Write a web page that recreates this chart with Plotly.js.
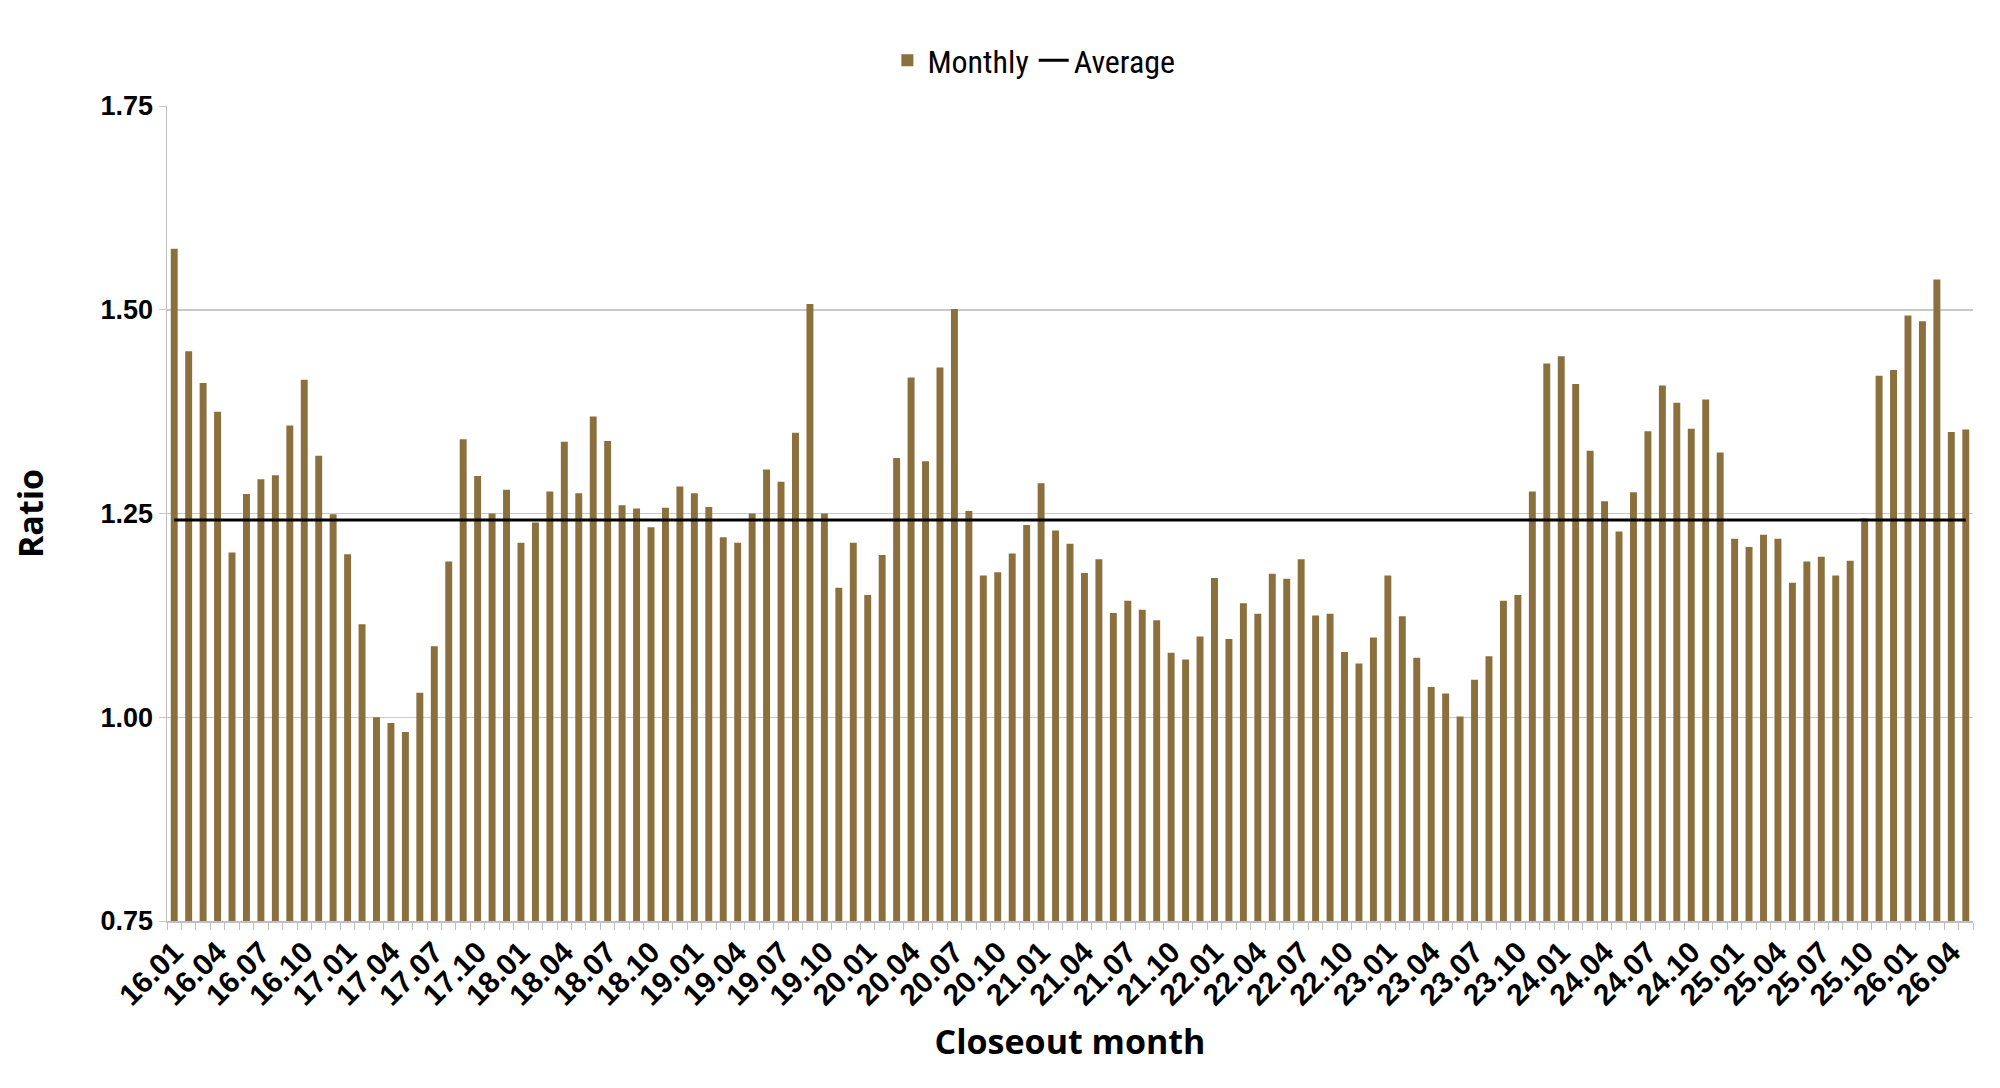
<!DOCTYPE html>
<html>
<head>
<meta charset="utf-8">
<script src="https://cdn.plot.ly/plotly-3.0.1.min.js"></script>
<style>
  html, body { margin: 0; padding: 0; background: #fff; }
  #chart { width: 2000px; height: 1088px; }
</style>
</head>
<body>
<div id="chart"></div>
<script>
// closeout months 16.01 .. 26.05
const firstYear = 16;
const monthCount = 125;
const months = [];
for (let i = 0; i < monthCount; i++) {
  const yy = firstYear + Math.floor(i / 12);
  const mm = (i % 12) + 1;
  months.push(yy + '.' + mm.toString().padStart(2, '0'));
}

// monthly ratio
const monthly = [
  1.575, 1.449, 1.410, 1.375, 1.202, 1.274, 1.292, 1.297, 1.358, 1.414, 1.321, 1.249,
  1.200, 1.114, 1.000, 0.993, 0.982, 1.030, 1.087, 1.191, 1.341, 1.296, 1.250, 1.279,
  1.214, 1.239, 1.277, 1.338, 1.275, 1.369, 1.339, 1.260, 1.256, 1.233, 1.257, 1.283,
  1.275, 1.258, 1.221, 1.214, 1.250, 1.304, 1.289, 1.349, 1.507, 1.250, 1.159, 1.214,
  1.150, 1.199, 1.318, 1.417, 1.314, 1.429, 1.501, 1.253, 1.174, 1.178, 1.201, 1.236,
  1.287, 1.229, 1.213, 1.177, 1.194, 1.128, 1.143, 1.132, 1.119, 1.079, 1.071, 1.099,
  1.171, 1.096, 1.140, 1.127, 1.176, 1.170, 1.194, 1.125, 1.127, 1.080, 1.066, 1.098,
  1.174, 1.124, 1.073, 1.037, 1.029, 1.001, 1.046, 1.075, 1.143, 1.150, 1.277, 1.434,
  1.443, 1.409, 1.327, 1.265, 1.228, 1.276, 1.351, 1.407, 1.386, 1.354, 1.390, 1.325,
  1.219, 1.209, 1.224, 1.219, 1.165, 1.191, 1.197, 1.174, 1.192, 1.244, 1.419, 1.426,
  1.493, 1.486, 1.537, 1.350, 1.353
];

const averageValue = 1.242;
const average = months.map(() => averageValue);

// label every third month, starting at 16.01
const tickText = months.map((m, i) => (i % 3 === 0 ? m : ''));
const yTicks = [0.75, 1.00, 1.25, 1.50, 1.75];

const barTrace = {
  x: months,
  y: monthly,
  type: 'bar',
  name: 'Monthly',
  marker: { color: '#8b6f3d' },
  hoverinfo: 'x+y',
};

const avgTrace = {
  x: months,
  y: average,
  type: 'scatter',
  mode: 'lines',
  name: 'Average',
  line: { color: '#000000', width: 3 },
  hoverinfo: 'skip',
};

const xTickFont = { family: 'Liberation Sans, Arial, sans-serif', size: 30, color: '#000', weight: 700 };
const yTickFont = { family: 'Liberation Sans, Arial, sans-serif', size: 27, color: '#000', weight: 700 };
const titleFont = { family: 'Open Sans, Noto Sans, sans-serif', size: 34, color: '#000', weight: 700 };

const layout = {
  width: 2000,
  height: 1088,
  paper_bgcolor: '#ffffff',
  plot_bgcolor: '#ffffff',
  margin: { l: 167, r: 27, t: 106, b: 167 },
  bargap: 0.52,
  showlegend: true,
  legend: {
    orientation: 'h',
    x: 0.48,
    xanchor: 'center',
    y: 1.056,
    yanchor: 'middle',
    font: { family: 'Liberation Sans Narrow, Arial Narrow, Roboto Condensed, Roboto, sans-serif', size: 32, color: '#000' },
    itemwidth: 30,
    traceorder: 'normal',
  },
  xaxis: {
    type: 'category',
    tickmode: 'array',
    tickvals: months,
    ticktext: tickText,
    tickson: 'boundaries',
    ticks: 'outside',
    ticklen: 7,
    tickcolor: '#bfbfbf',
    tickangle: -45,
    tickfont: xTickFont,
    showgrid: false,
    showline: true,
    linecolor: '#bfbfbf',
    linewidth: 1.5,
    title: { text: 'Closeout month', font: titleFont, standoff: 20 },
  },
  yaxis: {
    range: [0.75, 1.75],
    tickmode: 'array',
    tickvals: yTicks,
    ticktext: yTicks.map((v) => v.toFixed(2)),
    ticks: 'outside',
    ticklen: 7,
    tickcolor: '#c8c8c8',
    tickfont: yTickFont,
    showgrid: true,
    gridcolor: '#c8c8c8',
    gridwidth: 1.5,
    zeroline: false,
    showline: true,
    linecolor: '#bfbfbf',
    linewidth: 1.5,
    title: { text: 'Ratio', font: titleFont, standoff: 46 },
  },
};

const config = { displayModeBar: false, staticPlot: true };

Plotly.newPlot('chart', [barTrace, avgTrace], layout, config);
</script>
</body>
</html>
